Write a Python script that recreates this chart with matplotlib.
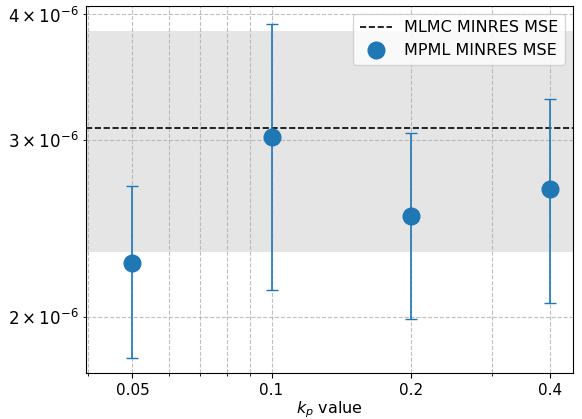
import numpy as np
import matplotlib.pyplot as plt
from matplotlib.ticker import NullFormatter

# k_p sweep and MSE results
kp = [0.05, 0.1, 0.2, 0.4]
mpml_mse = [2.26e-6, 3.02e-6, 2.52e-6, 2.68e-6]
mpml_std = [0.44e-6, 0.895e-6, 0.53e-6, 0.615e-6]

mlmc_mse = 3.086e-6
mlmc_std = 0.765e-6

plt.rcParams["font.size"] = 11.5

fig = plt.figure(figsize=(5.82, 4.19), dpi=100)
ax = fig.add_axes([0.148, 0.11, 0.8365, 0.876])

ax.axhspan(mlmc_mse - mlmc_std, mlmc_mse + mlmc_std, color="gray", alpha=0.2, lw=0)
ax.axhline(mlmc_mse, color="black", linestyle="--", linewidth=1.2, label="MLMC MINRES MSE")
ax.errorbar(kp, mpml_mse, yerr=mpml_std, fmt="none", ecolor="tab:blue", capsize=4, elinewidth=1.2)
ax.plot(kp, mpml_mse, "o", color="tab:blue", markersize=12, label="MPML MINRES MSE")

ax.set_xscale("log")
ax.set_yscale("log")
ax.set_xlim(0.0397, 0.449)
ax.set_ylim(1.758e-6, 4.08e-6)
ax.set_xticks(kp)
ax.set_xticklabels([str(k) for k in kp])
ax.xaxis.set_minor_formatter(NullFormatter())
ax.tick_params(axis="x", which="both", labelsize=11)
ax.tick_params(axis="y", which="both", labelsize=12)

ax.grid(True, which="both", linestyle="--", color="#b0b0b0", linewidth=0.8, alpha=0.8)
ax.set_xlabel("$k_p$ value", labelpad=1)
ax.legend(loc="upper right")

fig.savefig("out.png", dpi=100)
